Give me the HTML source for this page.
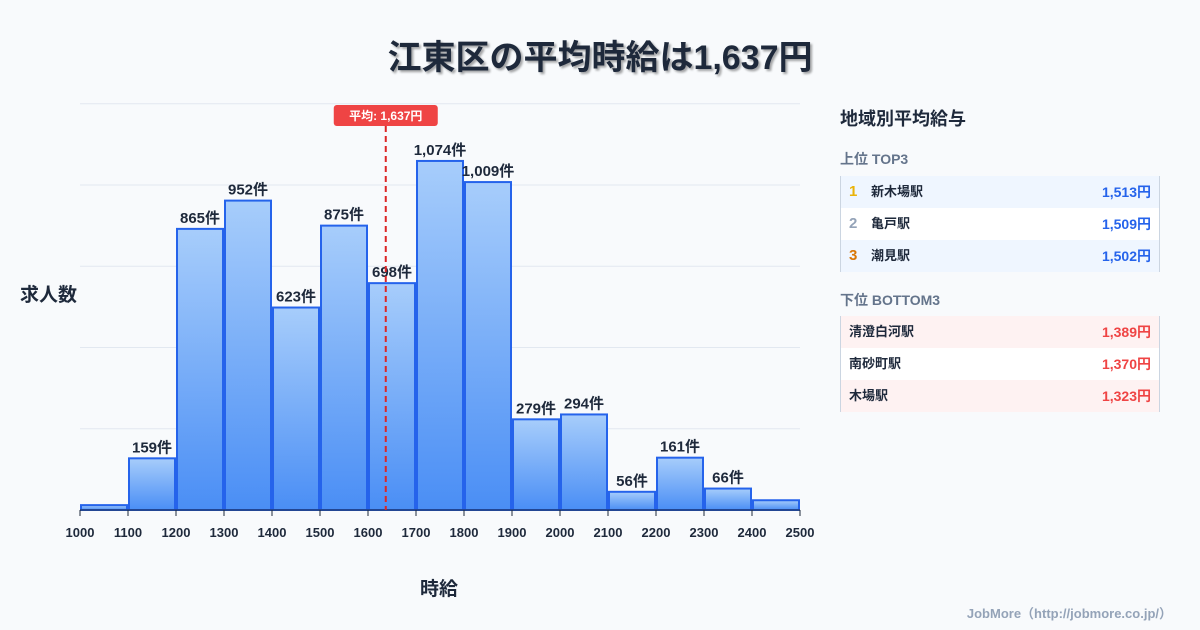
<!DOCTYPE html>
<html><head><meta charset="utf-8">
<style>
body{margin:0;width:1200px;height:630px;background:#f8fafc;font-family:"Liberation Sans","Noto Sans CJK JP",sans-serif;position:relative;overflow:hidden;color:#1e293b}
.t{position:absolute}
.row{position:absolute;left:840px;width:320px;height:32px;font-size:13px;font-weight:bold;border-left:1px solid #cbd5e1;border-right:1px solid #cbd5e1;box-sizing:border-box}
.row span{position:absolute;top:8px;line-height:16px}
.row span.rk{font-size:15px;top:8px}
</style></head><body>
<div class="t" style="left:0;width:1200px;top:30px;text-align:center;font-size:34px;font-weight:bold;text-shadow:2px 2px 2px rgba(0,0,0,0.35)">江東区の平均時給は1,637円</div>
<svg id="c" class="t" style="left:0;top:0" width="820" height="630">
<defs><linearGradient id="g" x1="0" y1="0" x2="0" y2="1"><stop offset="0" stop-color="#a7cdfb"/><stop offset="1" stop-color="#4a8ef5"/></linearGradient></defs>
</svg>
<div class="t" style="left:20px;top:280px;font-size:19px;font-weight:bold">求人数</div>
<div class="t" style="left:420px;top:574px;font-size:19px;font-weight:bold">時給</div>
<div class="t" style="left:840px;top:105px;font-size:18px;font-weight:bold">地域別平均給与</div>
<div class="t" style="left:840px;top:149px;font-size:14px;font-weight:bold;color:#64748b">上位 TOP3</div>
<div class="row" style="top:176px;background:#eff6ff"><span class="rk" style="left:8px;color:#eab308">1</span><span style="left:30px">新木場駅</span><span style="right:8px;color:#2563eb;font-size:14px">1,513円</span></div>
<div class="row" style="top:208px;background:#fff"><span class="rk" style="left:8px;color:#94a3b8">2</span><span style="left:30px">亀戸駅</span><span style="right:8px;color:#2563eb;font-size:14px">1,509円</span></div>
<div class="row" style="top:240px;background:#eff6ff"><span class="rk" style="left:8px;color:#d97706">3</span><span style="left:30px">潮見駅</span><span style="right:8px;color:#2563eb;font-size:14px">1,502円</span></div>
<div class="t" style="left:840px;top:290px;font-size:14px;font-weight:bold;color:#64748b">下位 BOTTOM3</div>
<div class="row" style="top:316px;background:#fef2f2"><span style="left:8px">清澄白河駅</span><span style="right:8px;color:#ef4444;font-size:14px">1,389円</span></div>
<div class="row" style="top:348px;background:#fff"><span style="left:8px">南砂町駅</span><span style="right:8px;color:#ef4444;font-size:14px">1,370円</span></div>
<div class="row" style="top:380px;background:#fef2f2"><span style="left:8px">木場駅</span><span style="right:8px;color:#ef4444;font-size:14px">1,323円</span></div>
<div class="t" style="right:28px;top:603px;font-size:13px;font-weight:bold;color:#94a3b8">JobMore（http://jobmore.co.jp/）</div>
<script>
const binStarts=[1000,1100,1200,1300,1400,1500,1600,1700,1800,1900,2000,2100,2200,2300,2400];
const counts=[15,159,865,952,623,875,698,1074,1009,279,294,56,161,66,30];
const showLabel=[false,true,true,true,true,true,true,true,true,true,true,true,true,true,false];
const xTicks=[1000,1100,1200,1300,1400,1500,1600,1700,1800,1900,2000,2100,2200,2300,2400,2500];
const gridVals=[0,250,500,750,1000,1250];
const avg=1637;
const ns="http://www.w3.org/2000/svg",svg=document.getElementById('c');
const X=v=>80+(v-1000)*0.48, Y=v=>510-v*0.325;
function mk(t,a){const e=document.createElementNS(ns,t);for(const k in a)e.setAttribute(k,a[k]);svg.appendChild(e);return e;}
gridVals.forEach(v=>{const l=mk('line',{x1:80,x2:800,y1:Y(v),y2:Y(v),stroke:'#e2e8f0'});

});
binStarts.forEach((b,i)=>{const x0=X(b)+1,x1=X(b+100)-1,y=Y(counts[i]);
const r=mk('rect',{x:x0,y:y,width:x1-x0,height:510-y,fill:'url(#g)',stroke:'#2563eb','stroke-width':2});


if(showLabel[i]){const t=mk('text',{x:(x0+x1)/2,y:y-6,'text-anchor':'middle','font-size':15,'font-weight':'bold',fill:'#1e293b'});t.textContent=counts[i].toLocaleString('en-US')+'件';

}});
mk('line',{x1:80,x2:800,y1:510,y2:510,stroke:'#1e293b'});
xTicks.forEach(v=>{mk('line',{x1:X(v),x2:X(v),y1:510,y2:516,stroke:'#1e293b'});
const t=mk('text',{x:X(v),y:537,'text-anchor':'middle','font-size':13,'font-weight':'bold',fill:'#1e293b'});t.textContent=v;

});
const ax=X(avg);
const al=mk('line',{x1:ax,x2:ax,y1:126,y2:510,stroke:'#dc2626','stroke-width':2,'stroke-dasharray':'6,4'});


mk('rect',{x:ax-52,y:105,width:104,height:21,rx:3,fill:'#ef4444'});
const at=mk('text',{x:ax,y:120,'text-anchor':'middle','font-size':12,'font-weight':'bold',fill:'#fff'});at.textContent='平均: 1,637円';


</script>
</body></html>
